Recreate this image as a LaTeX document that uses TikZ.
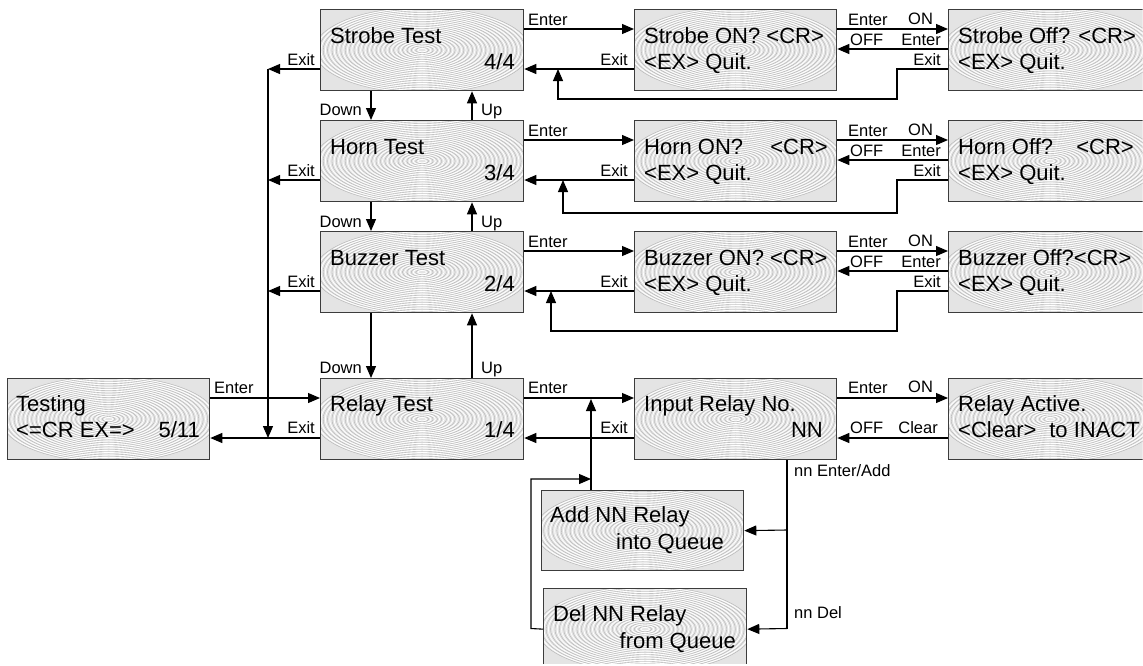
\documentclass[tikz,border=0pt]{standalone}
\usepackage{fontspec}
\setmainfont{Liberation Sans}
\usetikzlibrary{arrows.meta,calc}
\definecolor{lcdfill}{RGB}{228,228,228}
\definecolor{lcdline}{RGB}{60,60,60}
\definecolor{ringc}{RGB}{175,175,175}
\begin{document}
\begin{tikzpicture}[x=1pt,y=-1pt,
  lcd/.style={draw=lcdline, line width=1.3pt, fill=lcdfill, minimum width=203pt, minimum height=81pt,
    inner sep=0pt, anchor=north west,
    path picture={
      \foreach \k in {1,...,24}{
        \draw[white,line width=0.8pt] (path picture bounding box.center) ellipse [x radius={\k*4.4pt}, y radius={\k*1.75pt}];
        \draw[ringc,line width=0.35pt] (path picture bounding box.center) ellipse [x radius={\k*4.4pt+2.2pt}, y radius={\k*1.75pt+0.88pt}];
      }}},
  btxt/.style={font=\fontsize{22}{24}\selectfont, inner sep=0pt},
  lbl/.style={font=\fontsize{16.5}{18}\selectfont, inner sep=0pt},
  arr/.style={draw=black, line width=1.1pt, -{Triangle[length=12pt,width=10pt]}},
  ln/.style={draw=black, line width=1.1pt}]
\useasboundingbox (0,0) rectangle (1143,665);
\clip (0,0) rectangle (1142.5,663);

% ---------- boxes ----------
\node[lcd] (st)   at (320,9)   {};
\node[lcd] (ht)   at (320,120) {};
\node[lcd] (bt)   at (320,231) {};
\node[lcd] (rt)   at (320,378) {};
\node[lcd, minimum width=202pt] (tg) at (7,378) {};
\node[lcd, minimum width=202pt] (son)  at (634,9)   {};
\node[lcd, minimum width=202pt] (hon)  at (634,120) {};
\node[lcd, minimum width=202pt] (bon)  at (634,231) {};
\node[lcd, minimum width=202pt] (irn)  at (634,378) {};
\node[lcd] (soff) at (948,9)   {};
\node[lcd] (hoff) at (948,120) {};
\node[lcd] (boff) at (948,231) {};
\node[lcd] (ra)   at (948,378) {};
\node[lcd, minimum width=202pt, minimum height=80pt] (add) at (541,490) {};
\node[lcd] (del)  at (543,588) {};

% ---------- box texts ----------
\node[btxt, anchor=base west] (t1) at (330,43) {Strobe Test};
\node[btxt, anchor=base east] (t2) at (515,69) {4/4};
\node[btxt, anchor=base west] (t3) at (330,154) {Horn Test};
\node[btxt, anchor=base east] (t4) at (515,180) {3/4};
\node[btxt, anchor=base west] (t5) at (330,265) {Buzzer Test};
\node[btxt, anchor=base east] (t6) at (515,291) {2/4};
\node[btxt, anchor=base west] (t7) at (330,411) {Relay Test};
\node[btxt, anchor=base east] (t8) at (515,437) {1/4};
\node[btxt, anchor=base west] (t9) at (16,411) {Testing};
\node[btxt, anchor=base west] (t10) at (16,437) {<=CR EX=>};
\node[btxt, anchor=base east] (t11) at (200,437) {5/11};

\node[btxt, anchor=base west] (t12) at (644,43) {Strobe ON? <CR>};
\node[btxt, anchor=base west] (t13) at (644,69) {<EX> Quit.};
\node[btxt, anchor=base west] (t14) at (644,154) {Horn ON?};
\node[btxt, anchor=base east] (t15) at (828,154) {<CR>};
\node[btxt, anchor=base west] (t16) at (644,180) {<EX> Quit.};
\node[btxt, anchor=base west] (t17) at (644,265) {Buzzer ON? <CR>};
\node[btxt, anchor=base west] (t18) at (644,291) {<EX> Quit.};
\node[btxt, anchor=base west] (t19) at (644,411) {Input Relay No.};
\node[btxt, anchor=base east] (t20) at (823,437) {NN};

\node[btxt, anchor=base west] (t21) at (958,43) {Strobe Off? <CR>};
\node[btxt, anchor=base west] (t22) at (958,69) {<EX> Quit.};
\node[btxt, anchor=base west] (t23) at (958,154) {Horn Off?};
\node[btxt, anchor=base east] (t24) at (1134,154) {<CR>};
\node[btxt, anchor=base west] (t25) at (958,180) {<EX> Quit.};
\node[btxt, anchor=base west] (t26) at (958,265) {Buzzer Off?<CR>};
\node[btxt, anchor=base west] (t27) at (958,291) {<EX> Quit.};
\node[btxt, anchor=base west] (t28) at (958,411) {Relay Active.};
\node[btxt, anchor=base east] (t29) at (1140,437) {to INACT};
\node[btxt, anchor=base west] (t30) at (958,437) {<Clear>};

\node[btxt, anchor=base west] (t31) at (550,522) {Add NN Relay};
\node[btxt, anchor=base east] (t32) at (724,549) {into Queue};
\node[btxt, anchor=base west] (t33) at (553,621) {Del NN Relay};
\node[btxt, anchor=base east] (t34) at (736,648) {from Queue};

% ---------- Enter / Exit between columns 2 and 3 ----------
\foreach \a/\b in {st/son, ht/hon, bt/bon, rt/irn}{
  \draw[arr] ([yshift=-20pt]\a.north east) -- ([yshift=-20pt]\b.north west);
  \draw[arr] ([yshift=-60pt]\b.north west) -- ([yshift=-60pt]\a.north east);
}
\foreach \y in {25,136,247,393}{
  \node[lbl, anchor=base west] at (528,\y) {Enter};
}
\foreach \y in {65,176,287,433}{
  \node[lbl, anchor=base east] at (628,\y) {Exit};
}

% ---------- ON / OFF between columns 3 and 4 ----------
\foreach \a/\b in {son/soff, hon/hoff, bon/boff, irn/ra}{
  \draw[arr] ([yshift=-20pt]\a.north east) -- ([yshift=-20pt]\b.north west);
}
\foreach \a/\b in {son/soff, hon/hoff, bon/boff}{
  \draw[arr] ([yshift=-40pt]\b.north west) -- ([yshift=-40pt]\a.north east);
}
\draw[arr] ([yshift=-60pt]ra.north west) -- ([yshift=-60pt]irn.north east);
\foreach \y in {25,136,247,393}{
  \node[lbl, anchor=base west] at (848,\y) {Enter};
  \node[lbl, anchor=base west] at (908,\y-1) {ON};
}
\foreach \y in {45,156,267}{
  \node[lbl, anchor=base west] at (850,\y) {OFF};
  \node[lbl, anchor=base east] at (941,\y) {Enter};
  \node[lbl, anchor=base east] at (941,\y+20) {Exit};
}
\node[lbl, anchor=base west] at (850,433) {OFF};
\node[lbl, anchor=base east] at (938,433) {Clear};

% ---------- return paths from column 4 ----------
\coordinate (rs) at (558,69);
\coordinate (rh) at (563,180);
\coordinate (rb) at (551,291);
\draw[arr] ([yshift=-60pt]soff.north west) -- (897,69) -- (897,99) -- (558,99) -- (rs);
\draw[arr] ([yshift=-60pt]hoff.north west) -- (897,180) -- (897,213) -- (563,213) -- (rh);
\draw[arr] ([yshift=-60pt]boff.north west) -- (897,291) -- (897,331) -- (551,331) -- (rb);

% ---------- Up / Down ----------
\foreach \a/\b in {st/ht, ht/bt, bt/rt}{
  \draw[arr] ([xshift=51pt]\a.south west) -- ([xshift=51pt]\b.north west);
  \draw[arr] ([xshift=152pt]\b.north west) -- ([xshift=152pt]\a.south west);
}
\foreach \y in {115,227,373}{
  \node[lbl, anchor=base east] at (362,\y) {Down};
  \node[lbl, anchor=base west] at (481,\y) {Up};
}

% ---------- left exit bus ----------
\coordinate (busT) at (268,69);
\coordinate (busB) at (268,438);
\draw[arr] ([yshift=-60pt]st.north west) -- (busT);
\draw[arr] ([yshift=-60pt]ht.north west) -- (268,180);
\draw[arr] ([yshift=-60pt]bt.north west) -- (268,291);
\draw[arr] (busT) -- (busB);
\foreach \y in {65,176,287,433}{
  \node[lbl, anchor=base east] at (315,\y) {Exit};
}
\draw[arr] ([yshift=-20pt]tg.north east) -- ([yshift=-20pt]rt.north west);
\draw[arr] ([yshift=-60pt]rt.north west) -- ([yshift=-60pt]tg.north east);
\node[lbl, anchor=base west] at (214,393) {Enter};

% ---------- relay queue ----------
\coordinate (qin) at (591,399);
\draw[arr] ([xshift=50pt]add.north west) -- (qin);
\draw[arr] (del.west) -- (531,628.5) -- (531,479) -- (591,479);
\draw[ln] ([xshift=153pt]irn.south west) -- (787,628.5);
\draw[arr] (787,530) -- (add.east);
\draw[arr] (787,628.5) -- (del.east);
\node[lbl, anchor=base west] at (794,476) {nn Enter/Add};
\node[lbl, anchor=base west] at (794,618) {nn Del};
\end{tikzpicture}
\end{document}
